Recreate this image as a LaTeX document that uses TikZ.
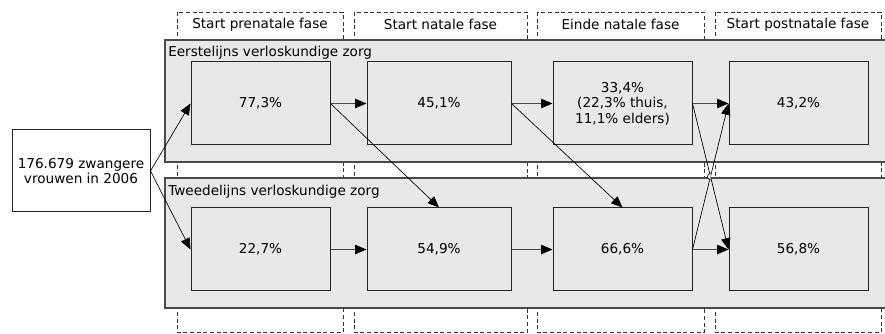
\documentclass[tikz,border=0pt]{standalone}
\usepackage{fontspec}
\setmainfont{DejaVu Sans}
\usetikzlibrary{positioning}
\usetikzlibrary{arrows.meta}
\usetikzlibrary{calc}
\definecolor{vlak}{HTML}{E8E8E8}
\definecolor{rand}{HTML}{4A4A4A}
\newcommand{\tekst}{\fontsize{10.2}{11.6}\selectfont}
\tikzset{
  fase/.style={draw=black!80, dash pattern=on 3pt off 2pt, line width=0.6pt},
  panel/.style={draw=rand, fill=vlak, line width=0.8pt},
  vak/.style={draw=black!85, fill=vlak, line width=0.75pt, align=center, inner sep=0pt,
    minimum width=104.25pt, minimum height=62.25pt},
  bron/.style={draw=black!85, fill=white, line width=0.75pt, align=center, inner sep=0pt,
    minimum width=103.5pt, minimum height=61.5pt},
  pijl/.style={-{Triangle[length=8.5pt,width=7pt,color=black]}, draw=rand, line width=0.9pt},
  dpijl/.style={-{Triangle[length=8.5pt,width=7pt]}, draw=black, line width=0.5pt},
}

\begin{document}
\begin{tikzpicture}[x=0.75pt, y=-0.75pt, font=\tekst]
  \useasboundingbox (0,0) rectangle (885,334);
  % fasen
  \draw[fase] (177,12) rectangle (343,332.5); %
  \draw[fase] (354,12) rectangle (527,332.5); %
  \draw[fase] (537,12) rectangle (704,332.5); %
  \draw[fase] (715,12) rectangle (881,332.5); %
  \node (f1) at (260,24.5) {Start prenatale fase}; %
  \node (f2) at (440.5,24.5) {Start natale fase}; %
  \node (f3) at (620.5,24.5) {Einde natale fase}; %
  \node (f4) at (798,24.5) {Start postnatale fase}; %
  % lijnen van zorg
  \draw[panel] (165,40) rectangle (900,162); %
  \draw[panel] (165,178) rectangle (900,308); %
  \node[anchor=west, inner sep=0pt] (eerste) at (168,52.5) {Eerstelijns verloskundige zorg}; %
  \node[anchor=west, inner sep=0pt] (tweede) at (168,191.5) {Tweedelijns verloskundige zorg}; %
  % vakken
  \node[bron] (bron) at (81,171) {176.679 zwangere\\vrouwen in 2006}; %
  \node[vak] (a1) at (260.5,103.5) {77,3\%}; %
  \node[vak, right=27pt of a1, minimum width=108pt] (a2) {45,1\%}; %
  \node[vak, right=30.75pt of a2] (a3) {33,4\%\\(22,3\% thuis,\\11,1\% elders)}; %
  \node[vak, right=27pt of a3] (a4) {43,2\%}; %
  \node[vak, below=46.5pt of a1] (b1) {22,7\%}; %
  \node[vak, right=27pt of b1, minimum width=108pt] (b2) {54,9\%}; %
  \node[vak, right=30.75pt of b2] (b3) {66,6\%}; %
  \node[vak, right=27pt of b3] (b4) {56,8\%}; %
  % pijlen
  \draw[dpijl] (bron.east) -- (a1.west); %
  \draw[dpijl] (bron.east) -- (b1.west); %
  \draw[pijl] (a1.east) -- (a2.west); %
  \draw[pijl] (a2.east) -- (a3.west); %
  \draw[pijl] (a3.east) -- (a4.west); %
  \draw[pijl] (b1.east) -- (b2.west); %
  \draw[pijl] (b2.east) -- (b3.west); %
  \draw[pijl] (b3.east) -- (b4.west); %
  \draw[dpijl] (a1.east) -- (b2.north); %
  \draw[dpijl] (a2.east) -- (b3.north); %
  \draw[dpijl] (a3.east) -- (b4.west); %
  \draw[dpijl] (b3.east) -- (a4.west); %
  \coordinate (kruis) at ($(a3.east)!.5!(b4.west)$); %
  \draw[line width=0.5pt, fill=white] ($(kruis)+(0,3)$) arc[start angle=90, end angle=270, radius=3]; %
\end{tikzpicture}
\end{document}
